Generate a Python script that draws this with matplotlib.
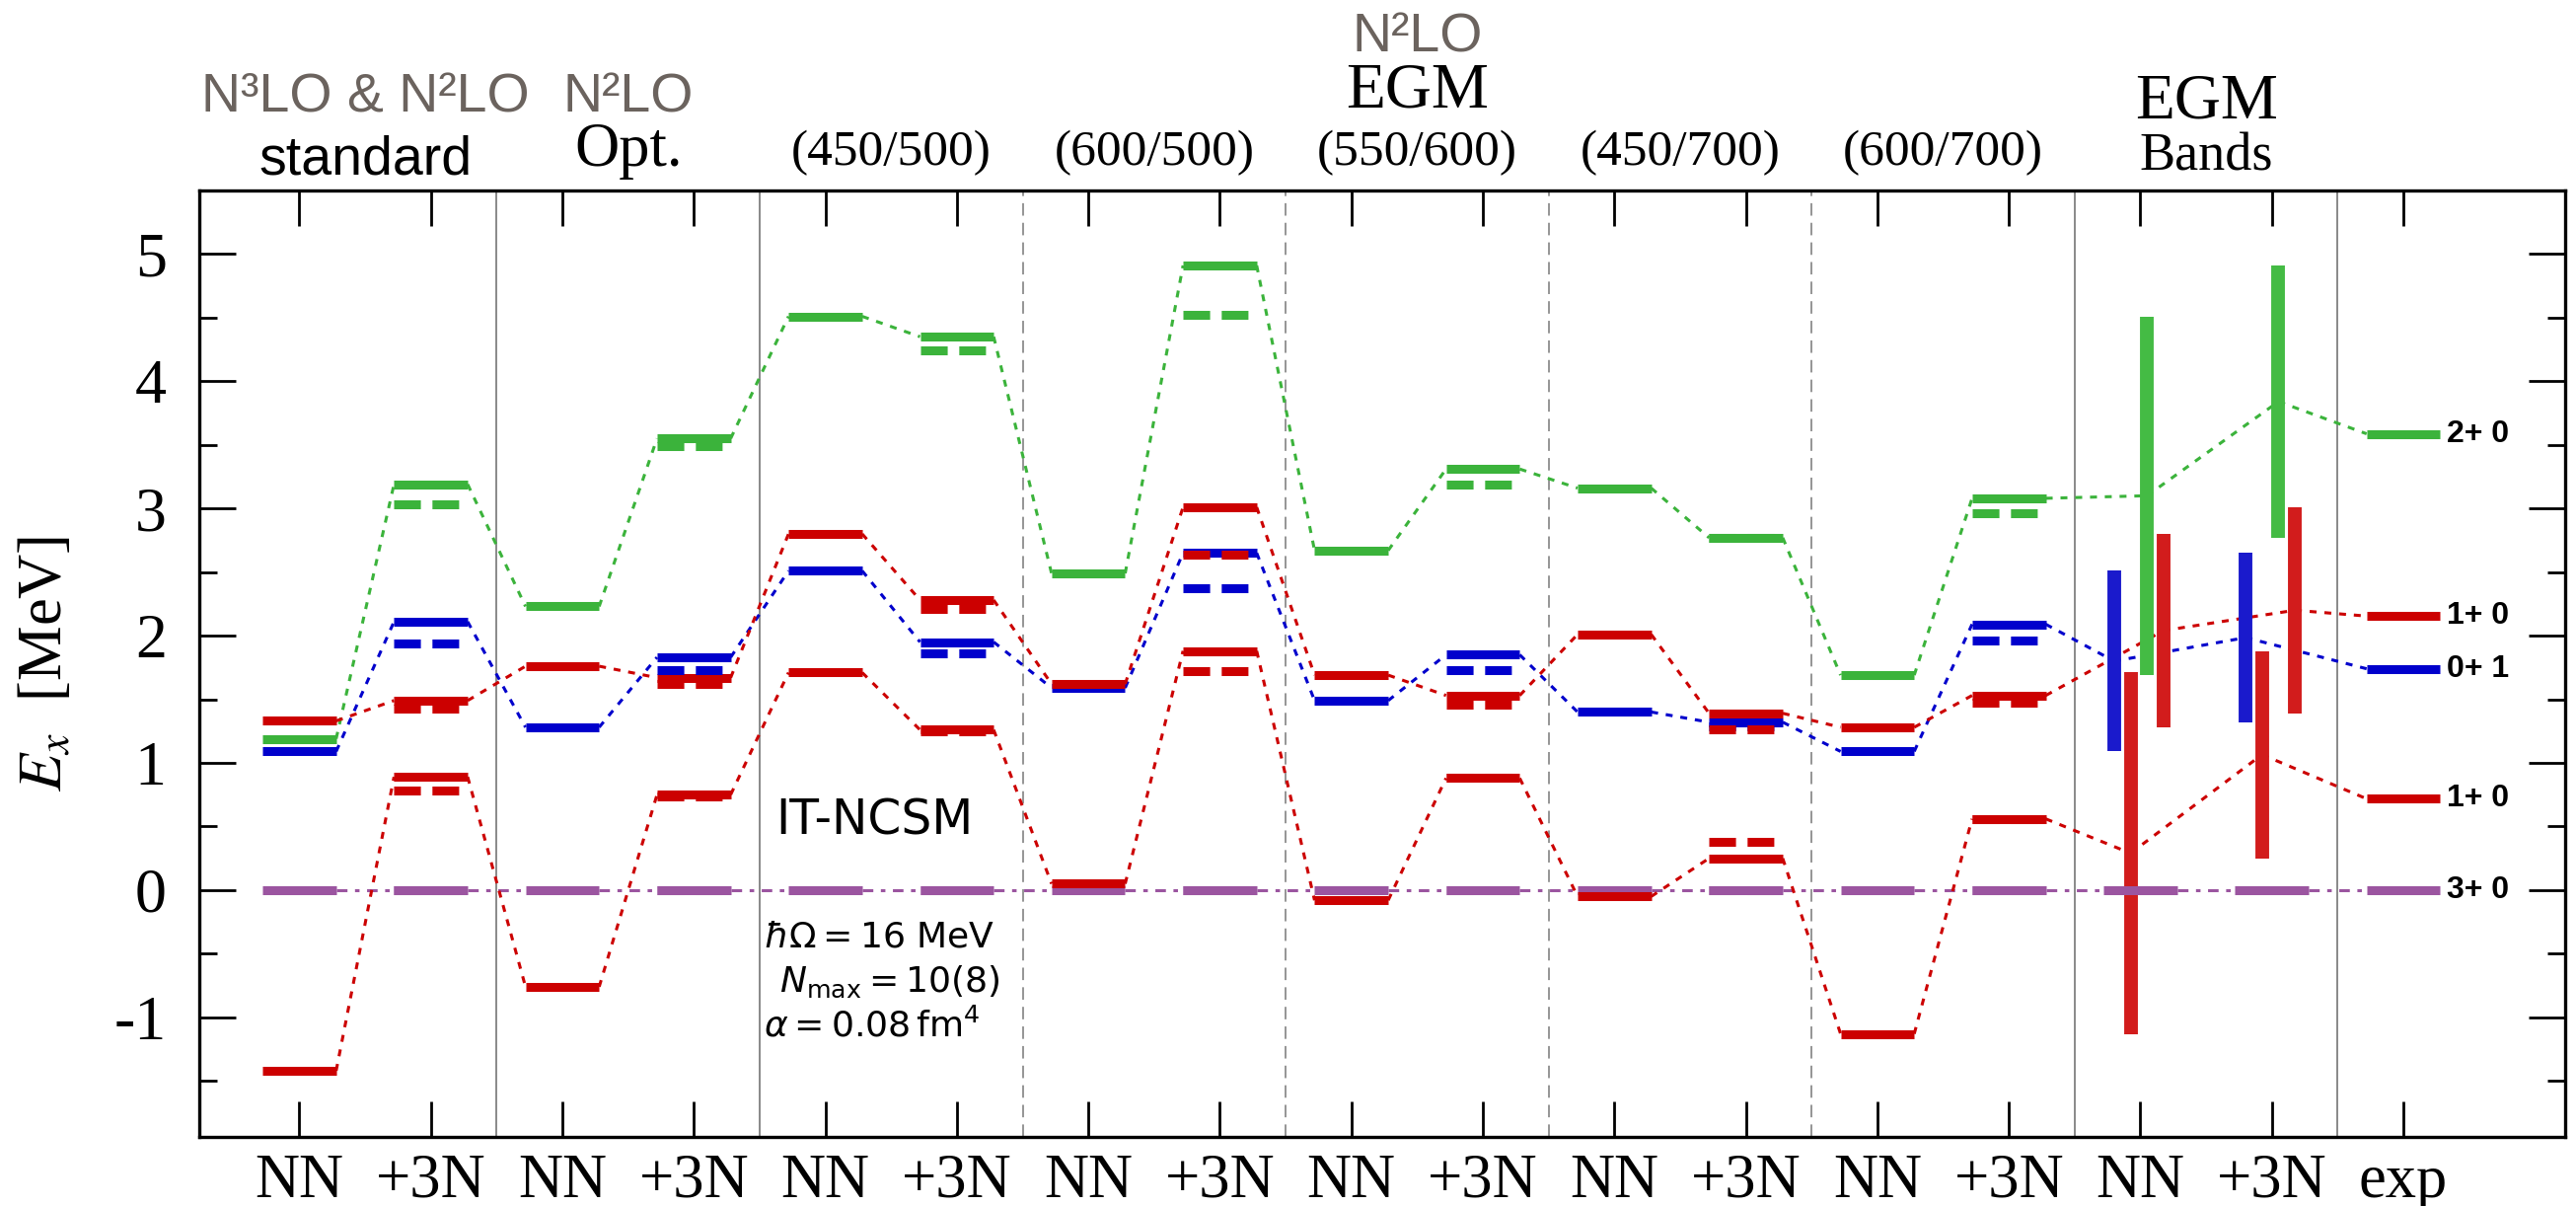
import numpy as np
import matplotlib
matplotlib.use("Agg")
import matplotlib.pyplot as plt
from matplotlib.transforms import blended_transform_factory

plt.rcParams["font.family"] = ["Liberation Serif", "DejaVu Serif"]

# one x column per calculation, the last one is experiment
col_labels = ["NN", "+3N"] * 8 + ["exp"]

# solid levels [MeV], 14 calculated columns (standard, Opt., 5 EGM sets)
green_2p0 = [1.19, 3.19, 2.23, 3.55, 4.51, 4.35, 2.49, 4.91, 2.67, 3.31, 3.16, 2.77, 1.69, 3.08]
red_1p0_hi = [1.33, 1.49, 1.76, 1.67, 2.80, 2.28, 1.62, 3.01, 1.69, 1.53, 2.01, 1.39, 1.28, 1.53]
blue_0p1 = [1.09, 2.11, 1.28, 1.83, 2.51, 1.95, 1.59, 2.65, 1.49, 1.85, 1.40, 1.32, 1.09, 2.09]
red_1p0_lo = [-1.42, 0.89, -0.76, 0.75, 1.71, 1.26, 0.05, 1.88, -0.08, 0.88, -0.05, 0.25, -1.13, 0.56]
purple_3p0 = [0.0] * 14

# dashed levels, only in the +3N columns
green_2p0_d = [3.03, 3.49, 4.24, 4.52, 3.19, 2.77, 2.96]
red_1p0_hi_d = [1.43, 1.62, 2.21, 2.64, 1.46, 1.26, 1.47]
blue_0p1_d = [1.94, 1.73, 1.86, 2.37, 1.73, 1.29, 1.96]
red_1p0_lo_d = [0.78, 0.74, 1.25, 1.72, 0.88, 0.38, 0.56]
purple_3p0_d = [0.0] * 7

# experiment
exp_levels = [3.587, 2.154, 1.740, 0.718, 0.0]
exp_labels = ["2+ 0", "1+ 0", "0+ 1", "1+ 0", "3+ 0"]

# EGM columns used for the bands
egm_nn = [4, 6, 8, 10, 12]
egm_3n = [5, 7, 9, 11, 13]

gray_txt = "#6b635e"
states = [
    # solid, dashed, level colour, band colour, band offset, exp index
    (purple_3p0, purple_3p0_d, "#9b55a0", "#9b55a0", None, 4),
    (green_2p0, green_2p0_d, "#3bb33b", "#44bb44", 0.05, 0),
    (blue_0p1, blue_0p1_d, "#0000cc", "#1a1acc", -0.2, 2),
    (red_1p0_hi, red_1p0_hi_d, "#cc0000", "#d21c1c", 0.175, 1),
    (red_1p0_lo, red_1p0_lo_d, "#cc0000", "#d21c1c", -0.075, 3),
]

fig = plt.figure(figsize=(26.11, 12.22), dpi=100)
ax = fig.add_axes([0.0774, 0.0573, 0.9184, 0.7848])

x = np.arange(1, 18)
hw = 0.28

for sep in [2.5, 4.5, 14.5, 16.5]:
    ax.axvline(sep, color="#808080", lw=1.3, zorder=1)
for sep in [6.5, 8.5, 10.5, 12.5]:
    ax.axvline(sep, color="#8c8c8c", lw=1.3, ls=(0, (7, 4)), zorder=1)

for solid, dashed, col, bcol, off, ei in states:
    left, right, ys = [], [], []
    for i, v in enumerate(solid):
        left.append(x[i] - hw)
        right.append(x[i] + hw)
        ys.append(v)
    for j, idx in enumerate([egm_nn, egm_3n]):
        xi = x[14 + j]
        vals = [solid[k] for k in idx]
        lo, hi = min(vals), max(vals)
        mid = (lo + hi) / 2
        if off is None:
            left.append(xi - hw)
            right.append(xi + hw)
        else:
            ax.plot([xi + off, xi + off], [lo, hi], color=bcol, lw=10,
                    solid_capstyle="butt", zorder=2.5)
            left.append(xi + off)
            right.append(xi + off)
        ys.append(mid)
    left.append(x[16] - hw)
    right.append(x[16] + hw)
    ys.append(exp_levels[ei])

    if off is None:
        ls_conn, lw_conn = (0, (3.5, 2.5, 1.5, 2.5)), 2.2
    else:
        ls_conn, lw_conn = (0, (2.3, 2.6)), 2.2
    for k in range(16):
        ax.plot([right[k], left[k + 1]], [ys[k], ys[k + 1]], color=col,
                lw=lw_conn, ls=ls_conn, dash_capstyle="butt", zorder=2)

    # level bars
    for k in range(17):
        if left[k] == right[k]:
            continue
        ax.plot([left[k], right[k]], [ys[k], ys[k]], color=col, lw=6.5,
                solid_capstyle="butt", zorder=3)
    for j, v in enumerate(dashed):
        xi = x[2 * j + 1]
        ax.plot([xi - hw, xi + hw], [v, v], color=col, lw=6.5,
                ls=(0, (3.0, 1.3)), dash_capstyle="butt", zorder=4)

for v, lab in zip(exp_levels, exp_labels):
    ax.text(17.33, v, lab, family=["Liberation Sans", "DejaVu Sans"],
            weight="bold", fontsize=23, ha="left", va="center", zorder=5)

ax.text(5.37, 0.44, "IT-NCSM", family="DejaVu Sans", fontsize=35, ha="center", va="baseline")
ax.text(4.53, -0.45, r"$\hbar\Omega = 16$ MeV", family="DejaVu Sans", math_fontfamily="dejavusans",
        fontsize=26, ha="left", va="baseline")
ax.text(4.65, -0.80, r"$N_{\rm max} = 10(8)$", family="DejaVu Sans", math_fontfamily="dejavusans",
        fontsize=26, ha="left", va="baseline")
ax.text(4.53, -1.15, r"$\alpha = 0.08\,\rm fm^4$", family="DejaVu Sans", math_fontfamily="dejavusans",
        fontsize=26, ha="left", va="baseline")

# group headers above the frame
tr = blended_transform_factory(ax.transData, fig.transFigure)
sans = ["Liberation Sans", "DejaVu Sans"]
ax.text(1.5, 0.9075, "N³LO & N²LO", family=sans, color=gray_txt, fontsize=40, ha="center", transform=tr)
ax.text(1.5, 0.8552, "standard", family=sans, fontsize=40, ha="center", transform=tr)
ax.text(3.5, 0.9075, "N²LO", family=sans, color=gray_txt, fontsize=40, ha="center", transform=tr)
ax.text(3.5, 0.8625, "Opt.", fontsize=45, ha="center", transform=tr)
for xc, lab in zip([5.5, 7.5, 9.5, 11.5, 13.5],
                   ["(450/500)", "(600/500)", "(550/600)", "(450/700)", "(600/700)"]):
    ax.text(xc, 0.8633, lab, fontsize=37, ha="center", transform=tr)
ax.text(9.5, 0.9574, "N²LO", family=sans, color=gray_txt, fontsize=40, ha="center", transform=tr)
ax.text(9.5, 0.9116, "EGM", fontsize=47, ha="center", transform=tr)
ax.text(15.5, 0.9026, "EGM", fontsize=47, ha="center", transform=tr)
ax.text(15.5, 0.8592, "Bands", fontsize=39, ha="center", transform=tr)

ax.set_xlim(0.24, 18.23)
ax.set_ylim(-1.94, 5.5)
ax.set_xticks(x)
ax.set_xticklabels(col_labels)
ax.set_yticks(range(-1, 6))
ax.set_yticklabels([str(v) for v in range(-1, 6)])
ax.set_yticks(np.arange(-1.5, 5.6, 0.5), minor=True)
ax.tick_params(axis="x", which="major", direction="in", length=26, width=2,
               top=True, labelsize=45, pad=12)
ax.tick_params(axis="x", which="minor", bottom=False, top=False)
ax.tick_params(axis="y", which="major", direction="in", length=26.5, width=2,
               right=True, labelsize=46, pad=24)
ax.tick_params(axis="y", which="minor", direction="in", length=13, width=2, right=True)
for sp in ax.spines.values():
    sp.set_linewidth(2.4)

ax.set_ylabel(r"$E_x$  [MeV]", fontsize=45, math_fontfamily="stix")
ax.yaxis.set_label_coords(-0.0525, 0.5)

fig.savefig("out.png", dpi=100)
